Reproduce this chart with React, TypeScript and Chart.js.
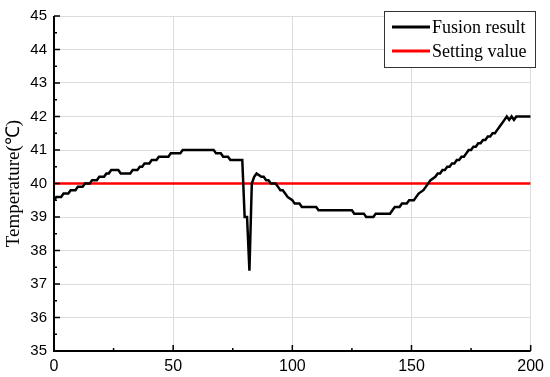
import React, { useEffect, useRef } from "react";
import { Chart, registerables } from "chart.js";

Chart.register(...registerables);

const fusionX = [0,1,3,4,6,7,9,10,12,13,15,16,18,19,21,22,23,24,27,28,32,33,35,36,37,38,40,41,43,44,48,49,53,54,67,68,70,71,73,74,79,80,81,82,83,84,85,87,88,89,90,91,93,94,95,96,97,98,100,101,103,104,110,111,125,126,130,131,134,135,141,142,143,145,146,148,149,151,152,153,155,156,157,158,160,161,162,163,164,165,166,167,168,169,170,171,172,173,174,175,176,177,178,179,180,181,182,183,184,185,186,187,188,189,190,191,192,193,194,200];
const fusionY = [39.5,39.6,39.6,39.7,39.7,39.8,39.8,39.9,39.9,40.0,40.0,40.1,40.1,40.2,40.2,40.3,40.3,40.4,40.4,40.3,40.3,40.4,40.4,40.5,40.5,40.6,40.6,40.7,40.7,40.8,40.8,40.9,40.9,41.0,41.0,40.9,40.9,40.8,40.8,40.7,40.7,39.0,39.0,37.4,40.0,40.2,40.3,40.2,40.2,40.1,40.1,40.0,40.0,39.9,39.8,39.8,39.7,39.6,39.5,39.4,39.4,39.3,39.3,39.2,39.2,39.1,39.1,39.0,39.0,39.1,39.1,39.2,39.3,39.3,39.4,39.4,39.5,39.5,39.6,39.7,39.8,39.9,40.0,40.1,40.2,40.3,40.3,40.4,40.4,40.5,40.5,40.6,40.6,40.7,40.7,40.8,40.8,40.9,41.0,41.0,41.1,41.1,41.2,41.2,41.3,41.3,41.4,41.4,41.5,41.5,41.6,41.7,41.8,41.9,42.0,41.9,42.0,41.9,42.0,42.0];
const settingX = [0, 200];
const settingY = [40, 40];
const seriesLabels = ["Fusion result", "Setting value"];
const seriesColors = ["#000000", "#ff0000"];
const yTitle = "Temperature(\u2103)";
const xMin = 0, xMax = 200, xStep = 50;
const yMin = 35, yMax = 45, yStep = 1;

const SERIF = "'Liberation Serif', 'Times New Roman', serif";
const SANS = "'Liberation Sans', Arial, sans-serif";

const axesPlugin = {
  id: "axesPlugin",
  afterDatasetsDraw(chart: any) {
    const { ctx, chartArea, scales } = chart;
    const xs = scales.x, ys = scales.y;
    ctx.save();
    ctx.strokeStyle = "#000";
    ctx.lineWidth = 2;
    ctx.beginPath();
    ctx.moveTo(chartArea.left, chartArea.top);
    ctx.lineTo(chartArea.left, chartArea.bottom);
    ctx.lineTo(chartArea.right, chartArea.bottom);
    ctx.stroke();
    ctx.lineWidth = 1.5;
    ctx.beginPath();
    for (let v = xMin; v <= xMax; v += xStep / 2) {
      const px = xs.getPixelForValue(v);
      const len = v % xStep === 0 ? 6 : 3;
      ctx.moveTo(px, chartArea.bottom);
      ctx.lineTo(px, chartArea.bottom - len);
    }
    for (let v = yMin; v <= yMax + 1e-9; v += yStep / 2) {
      const py = ys.getPixelForValue(v);
      const len = Math.abs(v - Math.round(v)) < 1e-6 ? 6 : 3;
      ctx.moveTo(chartArea.left, py);
      ctx.lineTo(chartArea.left + len, py);
    }
    ctx.stroke();

    // legend
    const bx = 384, by = 11, bw = 151, bh = 56;
    ctx.fillStyle = "#fff";
    ctx.fillRect(bx, by, bw, bh);
    ctx.strokeStyle = "#333";
    ctx.lineWidth = 1;
    ctx.strokeRect(bx + 0.5, by + 0.5, bw, bh);
    ctx.font = "18px " + SERIF;
    ctx.textBaseline = "middle";
    chart.data.datasets.forEach((ds: any, i: number) => {
      const yy = by + 16 + i * 24;
      ctx.strokeStyle = ds.borderColor;
      ctx.lineWidth = 3;
      ctx.beginPath();
      ctx.moveTo(bx + 8, yy);
      ctx.lineTo(bx + 46, yy);
      ctx.stroke();
      ctx.fillStyle = "#000";
      ctx.fillText(ds.label, bx + 48, yy + 1);
    });
    ctx.restore();
  },
};

export default function App() {
  const ref = useRef<HTMLCanvasElement>(null);
  useEffect(() => {
    document.body.style.margin = "0";
    const chart = new Chart(ref.current!, {
      type: "line",
      data: {
        datasets: [
          {
            label: seriesLabels[0],
            data: fusionX.map((x, i) => ({ x, y: fusionY[i] })),
            borderColor: seriesColors[0],
            borderWidth: 2.5,
            pointRadius: 0,
            tension: 0,
          },
          {
            label: seriesLabels[1],
            data: settingX.map((x, i) => ({ x, y: settingY[i] })),
            borderColor: seriesColors[1],
            borderWidth: 2.5,
            pointRadius: 0,
            tension: 0,
          },
        ],
      },
      options: {
        animation: false,
        responsive: false,
        layout: { padding: { top: 14, right: 19, left: 0, bottom: 0 } },
        plugins: { legend: { display: false }, tooltip: { enabled: false } },
        scales: {
          x: {
            type: "linear",
            min: xMin,
            max: xMax,
            ticks: { stepSize: xStep, color: "#000", font: { family: SANS, size: 16 }, padding: 6, maxRotation: 0 },
            grid: { color: "#dcdcdc", lineWidth: 1, drawTicks: false },
            border: { display: false },
            afterFit: (s: any) => { s.height = 26; },
          },
          y: {
            min: yMin,
            max: yMax,
            ticks: { stepSize: yStep, color: "#000", font: { family: SANS, size: 15 }, padding: 7 },
            grid: { color: "#dcdcdc", lineWidth: 1, drawTicks: false },
            border: { display: false },
            title: { display: true, text: yTitle, color: "#000", font: { family: SERIF, size: 19 }, padding: { top: 3, bottom: 0 } },
            afterFit: (s: any) => { s.width = 54; },
          },
        },
      },
      plugins: [axesPlugin],
    });
    return () => chart.destroy();
  }, []);
  return <canvas ref={ref} width={550} height={377} style={{ display: "block" }} />;
}
